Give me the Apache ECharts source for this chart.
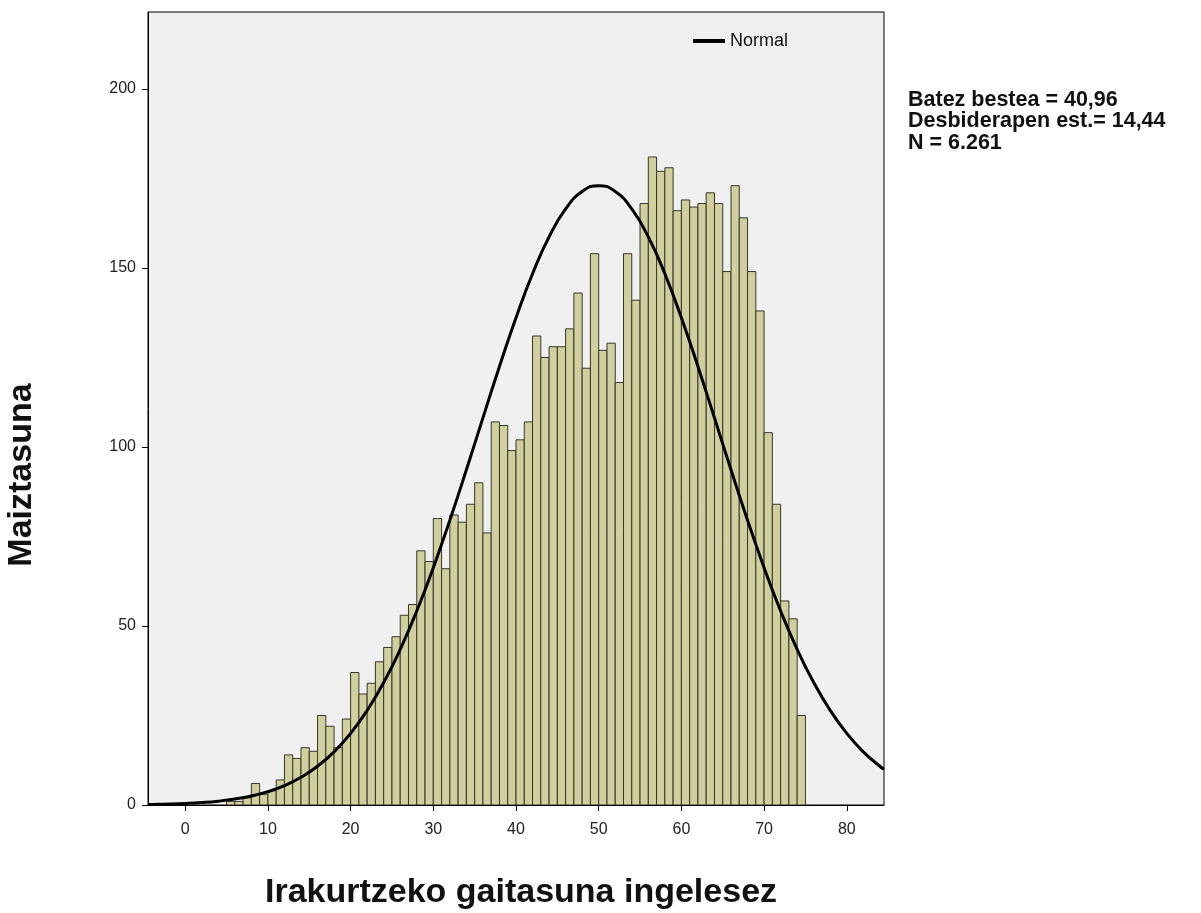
<!DOCTYPE html>
<html>
<head>
<meta charset="utf-8">
<script src="https://cdn.jsdelivr.net/npm/echarts@6/dist/echarts.min.js"></script>
<style>html,body{margin:0;padding:0;background:#fff}#c{width:1201px;height:913px}</style>
</head>
<body>
<div id="c"></div>
<script>
// Histogram bins: left edge of each unit-wide bin and its frequency
const binStart = [5,6,7,8,9,10,11,12,13,14,15,16,17,18,19,20,21,22,23,24,25,26,27,28,29,30,31,32,33,34,35,36,37,38,39,40,41,42,43,44,45,46,47,48,49,50,51,52,53,54,55,56,57,58,59,60,61,62,63,64,65,66,67,68,69,70,71,72,73,74];
const binCount = [1,1,2,6,3,4,7,14,13,16,15,25,22,16,24,37,31,34,40,44,47,53,56,71,68,80,66,81,79,84,90,76,107,106,99,102,107,131,125,128,128,133,143,122,154,127,129,118,154,141,168,181,177,178,166,169,167,168,171,168,149,173,164,149,138,104,84,57,52,25];
// Normal curve
const curveX = [-4.5,-4,-2,0,2,4,6,8,10,12,14,16,18,20,22,24,26,28,30,32,34,36,38,40,42,44,46,48,50,52,54,56,58,60,62,64,66,68,70,72,74,76,78,80,82,84,84.5];
const curveY = [0.14,0.16,0.26,0.43,0.69,1.08,1.67,2.52,3.73,5.42,7.73,10.82,14.85,19.99,26.40,34.20,43.47,54.20,66.29,79.55,93.63,108.13,122.49,136.11,148.39,158.69,166.49,171.35,173.0,171.35,166.49,158.69,148.39,136.11,122.49,108.13,93.63,79.55,66.29,54.20,43.47,34.20,26.40,19.99,14.85,10.82,9.97];
const xTicks = [0,10,20,30,40,50,60,70,80];
const yTicks = [0,50,100,150,200];
const statsText = ['Batez bestea = 40,96','Desbiderapen est.= 14,44','N = 6.261'];
const xTitle = 'Irakurtzeko gaitasuna ingelesez';
const yTitle = 'Maiztasuna';
const curveName = 'Normal';

const FONT = '"Liberation Sans", Arial, sans-serif';
const chart = echarts.init(document.getElementById('c'), null, {renderer:'canvas'});
const barData = binStart.map((s,i)=>[s, binCount[i]]);
const lineData = curveX.map((x,i)=>[x, curveY[i]]);

chart.setOption({
  animation:false,
  backgroundColor:'#ffffff',
  grid:{left:148, top:12, width:736, height:793, show:true, backgroundColor:'#F0F0F0', borderColor:'#000', borderWidth:1, containLabel:false, outerBoundsMode:'none'},
  legend:{
    data:[curveName], left:693, top:32, padding:0, itemWidth:32, itemHeight:4, icon:'rect', itemGap:0,
    textStyle:{fontFamily:FONT, fontSize:18, color:'#111', padding:[0,0,0,0]}
  },
  xAxis:{
    type:'value', min:-4.5, max:84.5,
    axisLine:{show:true, onZero:false, lineStyle:{color:'#000', width:1}},
    axisTick:{show:true, length:6, customValues:xTicks, lineStyle:{color:'#000'}},
    axisLabel:{customValues:xTicks, margin:17, fontFamily:FONT, fontSize:16, color:'#222'},
    splitLine:{show:false}
  },
  yAxis:{
    type:'value', min:0, max:221.5,
    axisLine:{show:true, onZero:false, lineStyle:{color:'#000', width:1}},
    axisTick:{show:true, length:6, customValues:yTicks, lineStyle:{color:'#000'}},
    axisLabel:{customValues:yTicks, margin:12, fontFamily:FONT, fontSize:16, color:'#222'},
    splitLine:{show:false}
  },
  graphic:[
    {
      type:'text', left:908, top:89,
      style:{text:statsText.join('\n'), font:'bold 21.5px "Liberation Sans", Arial, sans-serif', lineHeight:21.5, fill:'#111'}
    },
    {
      type:'text', x:521, y:893,
      style:{text:xTitle, font:'bold 34px "Liberation Sans", Arial, sans-serif', fill:'#111', align:'center', verticalAlign:'middle'}
    },
    {
      type:'text', x:22, y:475, rotation:Math.PI/2,
      style:{text:yTitle, font:'bold 34px "Liberation Sans", Arial, sans-serif', fill:'#111', align:'center', verticalAlign:'middle'}
    }
  ],
  series:[
    {
      type:'custom', name:'hist', data:barData, clip:true,
      renderItem:function(params, api){
        const x0 = api.value(0), h = api.value(1);
        const p0 = api.coord([x0, h]);
        const p1 = api.coord([x0+1, 0]);
        return {type:'rect', shape:{x:p0[0], y:p0[1], width:p1[0]-p0[0], height:p1[1]-p0[1]},
          style:{fill:'#D0D09E', stroke:'#36362a', lineWidth:1}};
      },
      encode:{x:0, y:1}, z:2
    },
    {
      type:'line', name:curveName, data:lineData, smooth:true, showSymbol:false, symbol:'none',
      lineStyle:{color:'#000', width:3}, itemStyle:{color:'#000'}, z:3
    }
  ]
});
</script>
</body>
</html>
